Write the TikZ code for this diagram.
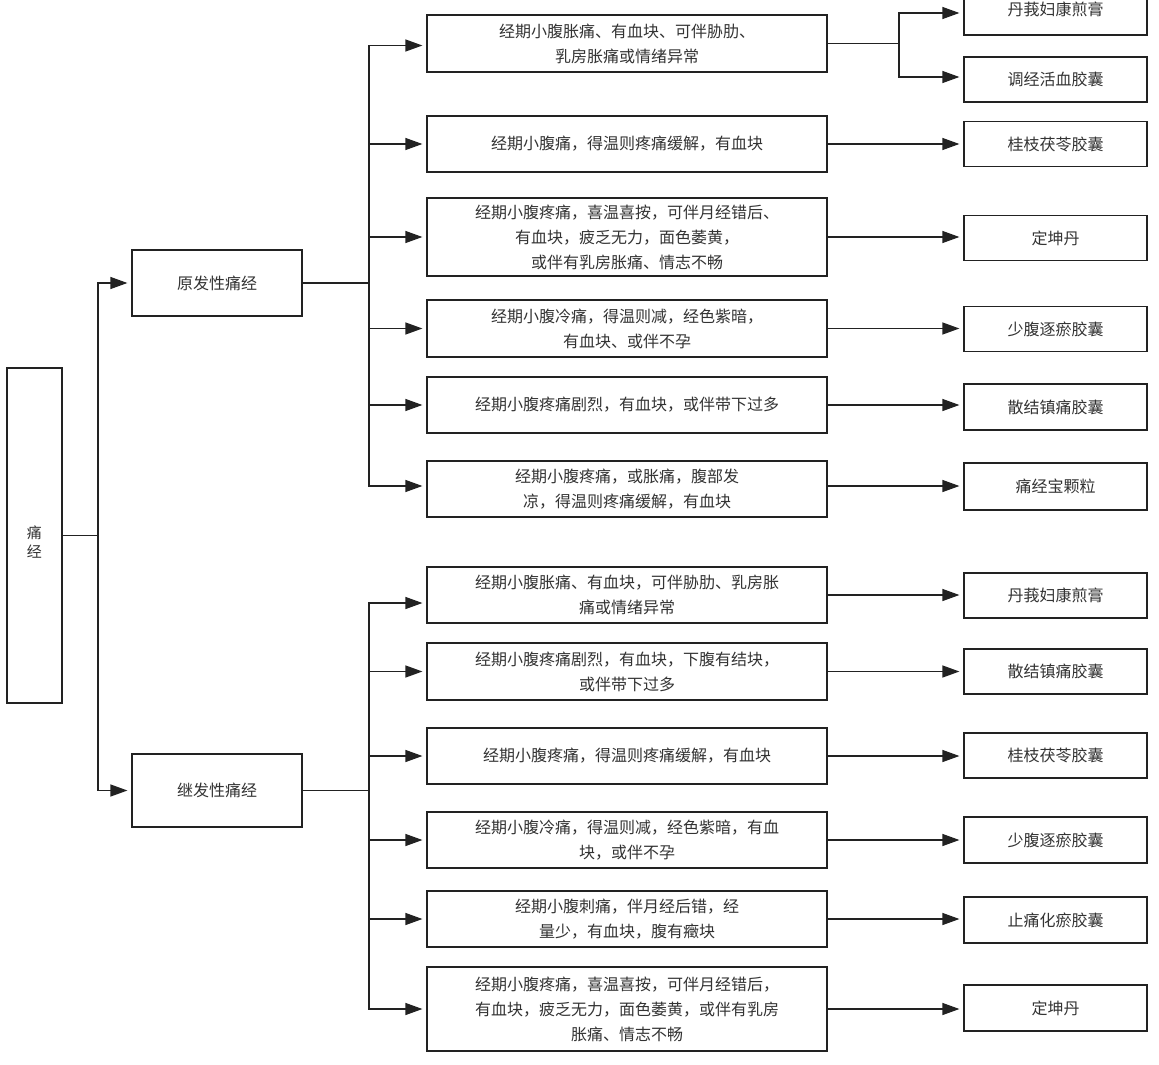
\documentclass[tikz,border=0pt]{standalone}
\usepackage{fontspec}
\newfontfamily\cjk{Noto Sans CJK SC}
\usetikzlibrary{arrows.meta}
\definecolor{ln}{HTML}{222222}
\definecolor{tx}{HTML}{333333}
\tikzset{
  box/.style={draw=ln, line width=1.2pt, rectangle, inner sep=0pt, align=center, text=tx,
    font={\cjk\fontsize{16}{25}\selectfont}},
  midbox/.style={box, minimum width=400pt},
  rbox/.style={box, minimum width=183pt},
  lbox/.style={box, minimum width=170pt},
  arr/.style={draw=ln, line width=1.2pt, -{Triangle[length=17pt,width=12pt]}, shorten >=4pt},
  ln/.style={draw=ln, line width=1.2pt}
}
\begin{document}
\begin{tikzpicture}[x=1pt,y=-1pt]
\fill[white] (0,0) rectangle (1159,1065);
\begin{scope}
\clip (0,0) rectangle (1159,1065);
% root
\node[box, minimum width=55pt, minimum height=335pt] (root) at (34.5,535.5) {};
\node[text=tx, align=center, inner sep=0pt, font={\cjk\fontsize{15}{19}\selectfont}] (rootlabel) at (34.5,542) {痛\\经};
\node[lbox, minimum height=66pt] (yuan) at (217,283) {原发性痛经};
\node[lbox, minimum height=73pt] (ji) at (217,790.5) {继发性痛经};
% primary middle
\node[midbox, minimum height=57pt] (P1) at (627,43.5) {经期小腹胀痛、有血块、可伴胁肋、\\乳房胀痛或情绪异常};
\node[midbox, minimum height=56pt] (P2) at (627,144) {经期小腹痛，得温则疼痛缓解，有血块};
\node[midbox, minimum height=78pt] (P3) at (627,237) {经期小腹疼痛，喜温喜按，可伴月经错后、\\有血块，疲乏无力，面色萎黄，\\或伴有乳房胀痛、情志不畅};
\node[midbox, minimum height=57pt] (P4) at (627,328.5) {经期小腹冷痛，得温则减，经色紫暗，\\有血块、或伴不孕};
\node[midbox, minimum height=56pt] (P5) at (627,405) {经期小腹疼痛剧烈，有血块，或伴带下过多};
\node[midbox, minimum height=56pt] (P6) at (627,489) {经期小腹疼痛，或胀痛，腹部发\\凉，得温则疼痛缓解，有血块};
% primary right
\node[rbox, minimum height=52pt] (R1a) at (1055.5,9) {丹莪妇康煎膏};
\node[rbox, minimum height=45pt] (R1b) at (1055.5,79.5) {调经活血胶囊};
\node[rbox, minimum height=45pt] (R2) at (1055.5,144) {桂枝茯苓胶囊};
\node[rbox, minimum height=45pt] (R3) at (1055.5,238) {定坤丹};
\node[rbox, minimum height=45pt] (R4) at (1055.5,329) {少腹逐瘀胶囊};
\node[rbox, minimum height=46pt] (R5) at (1055.5,407) {散结镇痛胶囊};
\node[rbox, minimum height=47pt] (R6) at (1055.5,486.5) {痛经宝颗粒};
% secondary middle
\node[midbox, minimum height=56pt] (S1) at (627,595) {经期小腹胀痛、有血块，可伴胁肋、乳房胀\\痛或情绪异常};
\node[midbox, minimum height=57pt] (S2) at (627,671.5) {经期小腹疼痛剧烈，有血块，下腹有结块，\\或伴带下过多};
\node[midbox, minimum height=56pt] (S3) at (627,756) {经期小腹疼痛，得温则疼痛缓解，有血块};
\node[midbox, minimum height=56pt] (S4) at (627,840) {经期小腹冷痛，得温则减，经色紫暗，有血\\块，或伴不孕};
\node[midbox, minimum height=56pt] (S5) at (627,919) {经期小腹刺痛，伴月经后错，经\\量少，有血块，腹有癥块};
\node[midbox, minimum height=84pt] (S6) at (627,1009) {经期小腹疼痛，喜温喜按，可伴月经错后，\\有血块，疲乏无力，面色萎黄，或伴有乳房\\胀痛、情志不畅};
% secondary right
\node[rbox, minimum height=45pt] (T1) at (1055.5,595.5) {丹莪妇康煎膏};
\node[rbox, minimum height=45pt] (T2) at (1055.5,671.5) {散结镇痛胶囊};
\node[rbox, minimum height=45pt] (T3) at (1055.5,755.5) {桂枝茯苓胶囊};
\node[rbox, minimum height=46pt] (T4) at (1055.5,840) {少腹逐瘀胶囊};
\node[rbox, minimum height=46pt] (T5) at (1055.5,920) {止痛化瘀胶囊};
\node[rbox, minimum height=46pt] (T6) at (1055.5,1008) {定坤丹};
% root connectors
\coordinate (j0) at (98,535.5);
\draw[ln] (root.east) -- (j0);
\draw[arr] (j0) |- (yuan.west);
\draw[arr] (j0) |- (ji.west);
% primary trunk
\coordinate (t1) at (369,283);
\draw[ln] (yuan.east) -- (t1);
\draw[arr] (t1) |- ([yshift=-2pt]P1.west);
\foreach \n in {P2,P3,P4,P5} {\draw[arr] (t1) |- (\n.west);}
\draw[arr] (t1) |- ([yshift=3pt]P6.west);
% secondary trunk
\coordinate (t2) at (369,790.5);
\draw[ln] (ji.east) -- (t2);
\draw[arr] (t2) |- ([yshift=-8pt]S1.west);
\foreach \n in {S2,S3,S4,S5,S6} {\draw[arr] (t2) |- (\n.west);}
% primary to right
\coordinate (f1) at (899,43.5);
\draw[ln] (P1.east) -- (f1);
\draw[arr] (f1) |- ([yshift=-4pt]R1a.west);
\draw[arr] (f1) |- ([yshift=2.5pt]R1b.west);
\foreach \a/\b in {P2/R2,P3/R3,P4/R4,P5/R5} {\draw[arr] (\a.east) -- (\a.east -| \b.west);}
\draw[arr] ([yshift=3pt]P6.east) -- ([yshift=3pt]P6.east -| R6.west);
% secondary to right
\foreach \a/\b in {S1/T1,S2/T2,S3/T3,S4/T4,S5/T5} {\draw[arr] (\a.east) -- (\a.east -| \b.west);}
\draw[arr] (S6.east) -- (S6.east -| T6.west);
\end{scope}
\pgfresetboundingbox
\useasboundingbox (0,0) rectangle (1159,1065);
\end{tikzpicture}
\end{document}
